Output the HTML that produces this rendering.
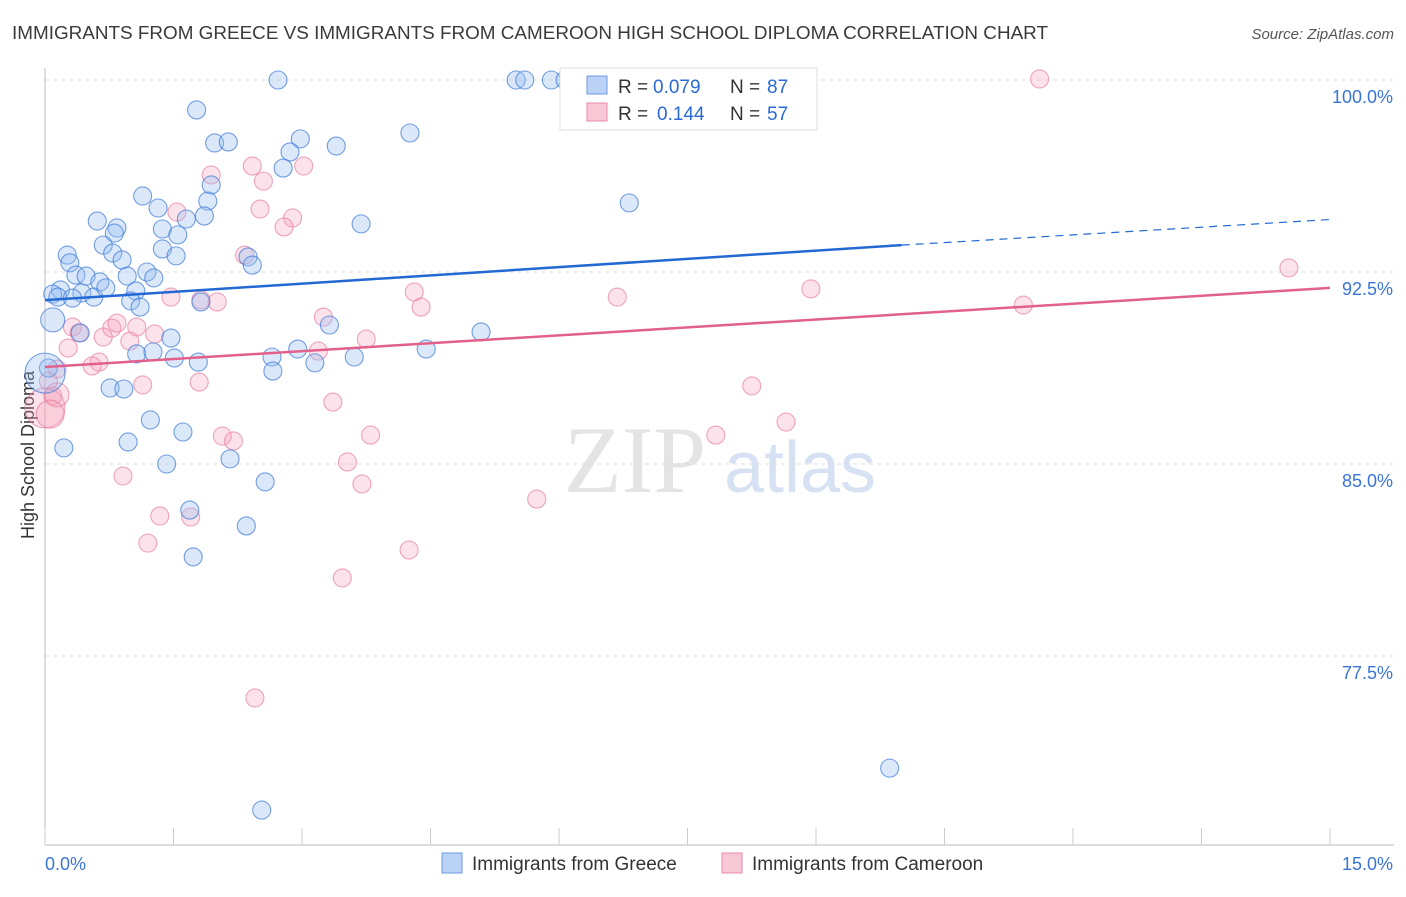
<!DOCTYPE html>
<html><head><meta charset="utf-8"><style>
body{margin:0;background:#fff;font-family:"Liberation Sans",sans-serif}
</style></head><body>
<svg width="1406" height="892" xmlns="http://www.w3.org/2000/svg">
<text x="12" y="39" font-size="18" fill="#3a3a3a" textLength="1036" lengthAdjust="spacingAndGlyphs">IMMIGRANTS FROM GREECE VS IMMIGRANTS FROM CAMEROON HIGH SCHOOL DIPLOMA CORRELATION CHART</text>
<text x="1394" y="39" font-size="15" fill="#555" text-anchor="end" font-style="italic">Source: ZipAtlas.com</text>
<text x="34" y="455" font-size="18" fill="#333" text-anchor="middle" transform="rotate(-90 34 455)">High School Diploma</text>
<g><text x="635" y="492" font-size="95" fill="#e4e4e4" text-anchor="middle" font-family="Liberation Serif,serif">ZIP</text><text x="800" y="492" font-size="72" fill="#d6e2f3" text-anchor="middle">atlas</text></g>
<g id="grid"></g><g id="axes"></g><g id="pts"></g><g id="lines"></g>
<g>
<rect x="560" y="68" width="257" height="62" fill="#fff" stroke="#ddd"/>
<rect x="587" y="76" width="20" height="18" fill="#b9d2f5" stroke="#6a9be0"/>
<rect x="587" y="103" width="20" height="18" fill="#f9c8d7" stroke="#e88aa8"/>
<text y="93" font-size="19" fill="#333"><tspan x="618">R =</tspan><tspan x="653" fill="#2a6ad6">0.079</tspan><tspan x="730">N =</tspan><tspan x="767" fill="#2a6ad6">87</tspan></text>
<text y="120" font-size="19" fill="#333"><tspan x="618">R =</tspan><tspan x="657" fill="#2a6ad6">0.144</tspan><tspan x="730">N =</tspan><tspan x="767" fill="#2a6ad6">57</tspan></text>
</g>
<g>
<rect x="442" y="853" width="20" height="20" fill="#b9d2f5" stroke="#6a9be0"/>
<text x="472" y="870" font-size="19" fill="#333">Immigrants from Greece</text>
<rect x="722" y="853" width="20" height="20" fill="#f9c8d7" stroke="#e88aa8"/>
<text x="752" y="870" font-size="19" fill="#333">Immigrants from Cameroon</text>
</g>
</svg>
<script>
const yTicks=[100,92.5,85,77.5];
const xTickLabels=["0.0%","15.0%"];
const greeceX=[2.72,5.5,5.6,5.91,6.07,1.77,1.98,2.14,2.98,3.4,4.26,2.86,2.78,1.94,1.9,1.14,1.32,1.86,1.65,0.61,0.84,1.37,0.81,1.55,3.69,6.82,0.26,0.68,0.79,1.37,1.53,2.37,2.42,0.9,0.29,0.36,0.48,0.64,0.96,1.19,1.27,0.18,0.09,0.15,0.43,0.57,0.71,1.06,1.0,1.11,0.32,1.82,0.09,0.41,3.32,5.09,1.47,1.07,1.26,1.51,1.79,2.65,2.95,3.15,2.66,3.61,4.45,0.04,0.0,0.76,0.92,1.23,1.61,0.97,0.22,1.42,2.16,2.57,1.69,2.35,1.73,9.86,2.53];
const greeceY=[100,100,100,100,100,98.83,97.54,97.58,97.7,97.42,97.93,97.19,96.56,95.9,95.27,95.47,95,94.69,94.57,94.49,94.22,94.18,94.02,93.95,94.38,95.2,93.16,93.55,93.24,93.4,93.13,93.09,92.77,92.97,92.86,92.38,92.34,92.11,92.34,92.5,92.27,91.8,91.64,91.52,91.68,91.52,91.88,91.76,91.37,91.13,91.48,91.33,90.63,90.12,90.43,90.16,89.92,89.3,89.38,89.14,88.98,89.18,89.49,88.95,88.63,89.18,89.49,88.75,88.55,87.97,87.93,86.72,86.25,85.86,85.63,85,85.2,84.3,83.2,82.58,81.37,73.12,71.48];
const greeceR=[9,9,9,9,9,9,9,9,9,9,9,9,9,9,9,9,9,9,9,9,9,9,9,9,9,9,9,9,9,9,9,9,9,9,9,9,9,9,9,9,9,9,9,9,9,9,9,9,9,9,9,9,12,9,9,9,9,9,9,9,9,9,9,9,9,9,9,9,20,9,9,9,9,9,9,9,9,9,9,9,9,9,9];
const camX=[11.61,1.94,2.42,3.02,2.55,2.51,1.54,2.89,2.79,2.33,1.47,1.82,2.01,14.52,4.31,4.39,6.68,8.94,11.42,3.25,0.32,0.78,1.07,0.84,1.28,0.4,0.68,0.27,0.99,3.75,3.19,0.63,0.55,0.14,0.04,1.14,1.8,8.25,3.36,0.09,0.0,8.65,2.07,2.2,7.83,3.8,3.53,3.7,0.91,5.74,1.34,1.7,1.2,4.25,3.47,2.45,0.14,0.06];
const camY=[100.04,96.29,96.64,96.64,96.05,94.96,94.84,94.61,94.26,93.16,91.52,91.41,91.33,92.66,91.72,91.13,91.52,91.84,91.21,90.74,90.35,90.31,90.35,90.5,90.08,90.12,89.96,89.53,89.8,89.88,89.41,88.98,88.83,88.71,88.24,88.09,88.2,88.05,87.42,87.66,87.19,86.64,86.09,85.9,86.13,86.13,85.08,84.22,84.53,83.63,82.97,82.93,81.91,81.64,80.55,75.86,87.7,86.95];
const camR=[9,9,9,9,9,9,9,9,9,9,9,9,9,9,9,9,9,9,9,9,9,9,9,9,9,9,9,9,9,9,9,9,9,9,9,9,9,9,9,9,20,9,9,9,9,9,9,9,9,9,9,9,9,9,9,9,12,14];
const trendGreece=[91.4,93.55,94.55];const trendCam=[88.79,91.88];
const NS="http://www.w3.org/2000/svg";
const X0=45,X1=1330,Y100=80,PPU=25.6;
const sx=v=>X0+(v/15)*(X1-X0);
const sy=v=>Y100+(100-v)*PPU;
function mk(t,a,p){const e=document.createElementNS(NS,t);for(const k in a)e.setAttribute(k,a[k]);document.getElementById(p).appendChild(e);return e;}
yTicks.forEach((t,i)=>{
 const l=mk('line',{x1:X0,x2:1394,y1:sy(t),y2:sy(t),stroke:'#ddd','stroke-dasharray':'4,4'},'grid');
 
 
 const tx=mk('text',{x:1393,y:sy(t)+23,'font-size':18,fill:'#3a75d4','text-anchor':'end'},'axes');
 tx.textContent=t.toFixed(1)+'%';
 
 
});
let ax=mk('line',{x1:X0,x2:X0,y1:68,y2:845,stroke:'#bbb'},'axes');


ax=mk('line',{x1:X0,x2:1394,y1:845,y2:845,stroke:'#bbb'},'axes');


for(let i=0;i<=10;i++){const t=mk('line',{x1:sx(i*1.5),x2:sx(i*1.5),y1:828,y2:845,stroke:'#ccc'},'axes');
 
 }
[[0,'start',X0],[1,'end',1393]].forEach(([i,a,x])=>{const t=mk('text',{x:x,y:870,'font-size':18,fill:'#3a75d4','text-anchor':a},'axes');t.textContent=xTickLabels[i];
 
 });
camX.forEach((v,i)=>{const c=mk('circle',{cx:sx(v),cy:sy(camY[i]),r:camR[i],fill:'rgba(244,160,186,0.3)',stroke:'rgba(230,120,155,0.65)','stroke-width':1.1},'pts');
 
 });
greeceX.forEach((v,i)=>{const c=mk('circle',{cx:sx(v),cy:sy(greeceY[i]),r:greeceR[i],fill:'rgba(150,190,240,0.35)',stroke:'rgba(60,120,215,0.7)','stroke-width':1.1},'pts');
 
 });
let L=mk('line',{x1:sx(0),y1:sy(trendGreece[0]),x2:sx(10),y2:sy(trendGreece[1]),stroke:'#2369d3','stroke-width':2.5},'lines');


L=mk('line',{x1:sx(10),y1:sy(trendGreece[1]),x2:sx(15),y2:sy(trendGreece[2]),stroke:'#2369d3','stroke-width':1.2,'stroke-dasharray':'8,6'},'lines');


L=mk('line',{x1:sx(0),y1:sy(trendCam[0]),x2:sx(15),y2:sy(trendCam[1]),stroke:'#e2608c','stroke-width':2.5},'lines');


</script>
</body></html>
